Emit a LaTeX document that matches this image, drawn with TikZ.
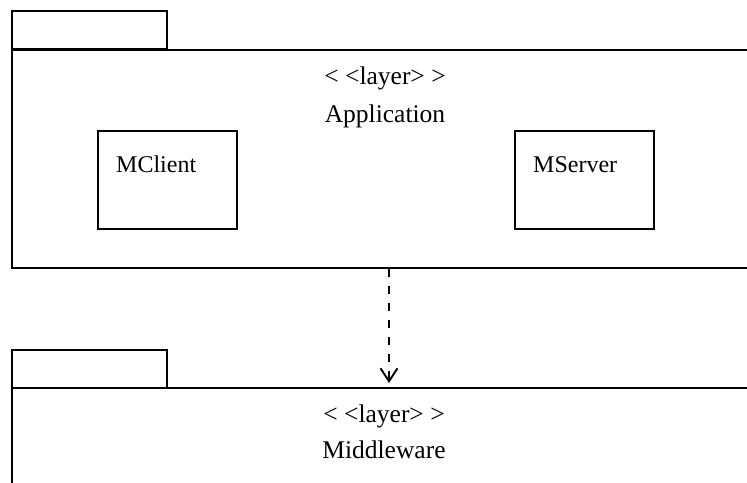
\documentclass[tikz,border=0pt]{standalone}
\usepackage{fontspec}
\setmainfont{Liberation Serif}
\usetikzlibrary{arrows.meta}
\begin{document}
\begin{tikzpicture}[x=1pt,y=-1pt,
  frame/.style={draw=black,line width=1.9pt},
  pkgtab/.style={frame,rectangle,minimum width=155pt,minimum height=38pt,inner sep=0pt,anchor=north west},
  pkgbody/.style={frame,rectangle,inner sep=0pt,anchor=north west},
  part/.style={frame,rectangle,minimum width=139pt,minimum height=98pt,inner sep=0pt,anchor=north west},
  label/.style={font=\fontsize{25.5}{30}\selectfont,inner sep=0pt,anchor=base},
  partlabel/.style={font=\fontsize{24}{28}\selectfont,inner sep=0pt,anchor=base west},
  depend/.style={line width=1.9pt,dash pattern=on 8pt off 9pt,-{Straight Barb[length=13pt,width=17pt,line width=1.9pt]}}
]
\useasboundingbox (0,0) rectangle (747,482);
\clip (0,0) rectangle (747,482);

% Application layer package
\node[pkgtab] (apptab) at (11,10) {};
\node[pkgbody,minimum width=800pt,minimum height=218pt] (app) at (11,49) {};
\node[label] (appst) at (385,84) {< <layer> >};
\node[label] (appname) at (385,122) {Application};

% components inside the application layer
\node[part] (client) at (97,130) {};
\node[partlabel] (clientname) at (116,172) {MClient};
\node[part] (server) at (514,130) {};
\node[partlabel] (servername) at (533,172) {MServer};

% Middleware layer package
\node[pkgtab] (midtab) at (11,349) {};
\node[pkgbody,minimum width=800pt,minimum height=200pt] (mid) at (11,387) {};
\node[label] (midst) at (384,422) {< <layer> >};
\node[label] (midname) at (384,458) {Middleware};

% dependency between the layers
\coordinate (src) at (app.south west -| 389,0);
\coordinate (dst) at (389,383);
\draw[depend] (src) -- (dst);
\end{tikzpicture}
\end{document}
